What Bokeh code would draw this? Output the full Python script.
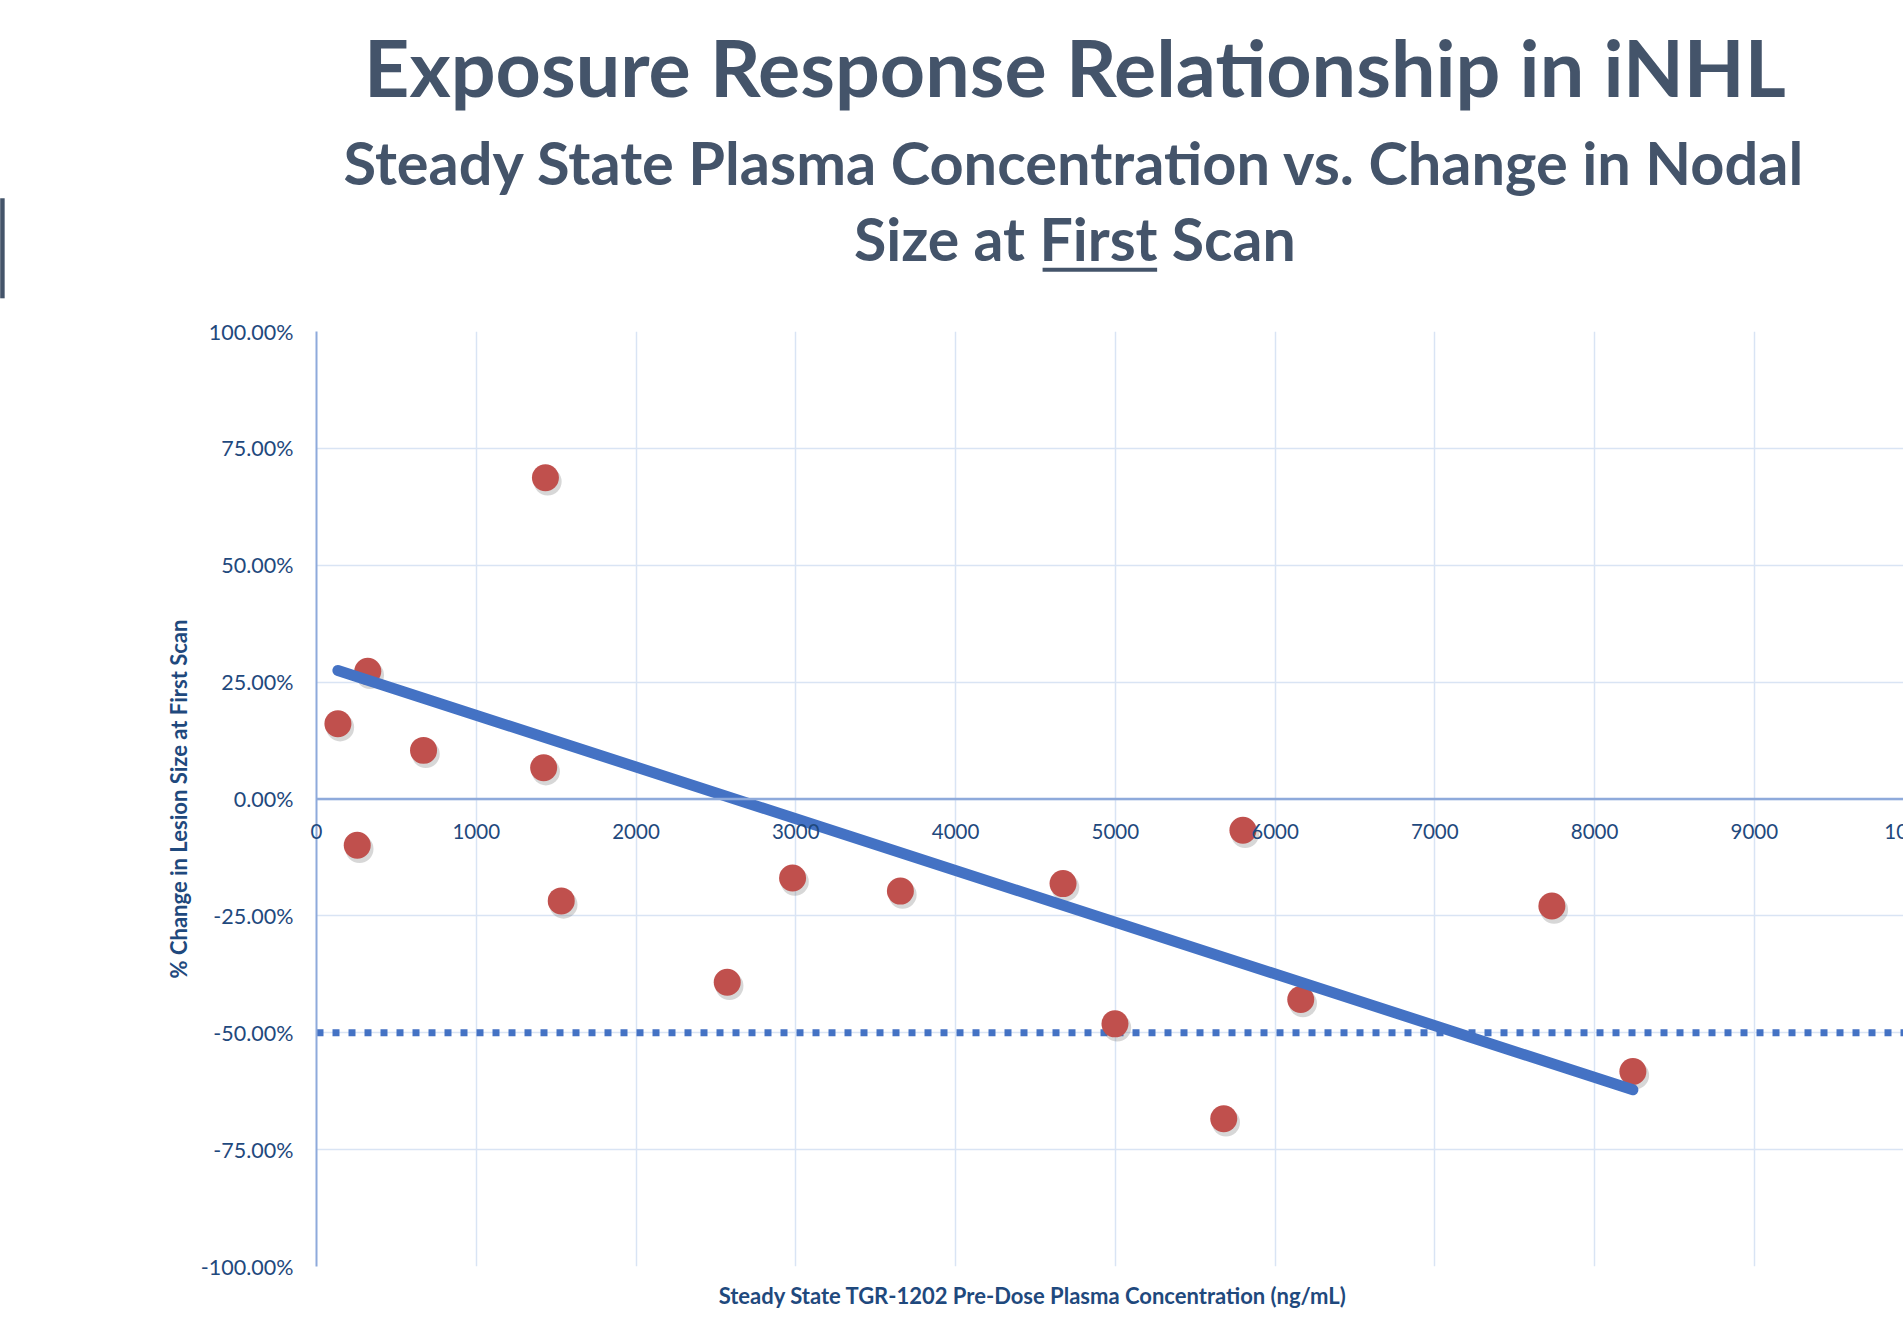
from bokeh.plotting import figure
from bokeh.models import (ColumnDataSource, Range1d, NumeralTickFormatter, FixedTicker, Span)
from bokeh.transform import dodge
from bokeh.core.properties import value
from bokeh.embed import file_html
from bokeh.resources import INLINE

# ---------------- data ----------------
title_text = "Exposure Response Relationship in iNHL"
subtitle_line1 = "Steady State Plasma Concentration vs. Change in Nodal"
subtitle_line2 = "Size at First Scan"
x_axis_title = "Steady State TGR-1202 Pre-Dose Plasma Concentration (ng/mL)"
y_axis_title = "% Change in Lesion Size at First Scan"

concentration = [134, 321, 255, 670, 1433, 1422, 1532, 2571, 2980, 3655,
                 4673, 4998, 5679, 5799, 6161, 7733, 8240]
pct_change = [0.161, 0.273, -0.099, 0.104, 0.687, 0.067, -0.218, -0.392, -0.169, -0.197,
              -0.181, -0.481, -0.684, -0.067, -0.429, -0.229, -0.583]

trend_x = [134, 8240]
trend_y = [0.275, -0.622]

threshold_x = [0, 10000]
threshold_y = [-0.50, -0.50]

x_ticks = [0, 1000, 2000, 3000, 4000, 5000, 6000, 7000, 8000, 9000, 10000]
x_tick_labels = [str(t) for t in x_ticks]
y_ticks = [-1.0, -0.75, -0.5, -0.25, 0.0, 0.25, 0.5, 0.75, 1.0]

# ---------------- style ----------------
TITLE_COLOR = "#44546A"
AXIS_TEXT = "#1F497D"
GRID = "#D9E4F4"
AXIS_LINE = "#8EAADB"
POINT = "#C0504D"
BLUE = "#4472C4"
FONT = "Lato"

W, H = 1903, 1318
p = figure(width=W, height=H, output_backend="svg", toolbar_location=None,
           x_range=Range1d(0, 9934), y_range=Range1d(-1.0, 1.0),
           min_border_left=316, min_border_right=0, min_border_top=331,
           min_border_bottom=52)
p.outline_line_color = None
p.background_fill_color = "white"
p.border_fill_color = "white"

# axes
p.xaxis.visible = False
yax = p.yaxis[0]
yax.ticker = FixedTicker(ticks=y_ticks)
yax.formatter = NumeralTickFormatter(format="0.00%")
yax.axis_line_color = AXIS_LINE
yax.axis_line_width = 2
yax.major_tick_line_color = None
yax.minor_tick_line_color = None
yax.major_label_standoff = 17
yax.major_label_text_font = FONT
yax.major_label_text_font_size = "21.5px"
yax.major_label_text_color = AXIS_TEXT
yax.axis_label = y_axis_title
yax.axis_label_text_font = FONT
yax.axis_label_text_font_size = "22px"
yax.axis_label_text_font_style = "bold"
yax.axis_label_text_color = AXIS_TEXT
yax.axis_label_standoff = 6

# grid
p.xgrid.ticker = FixedTicker(ticks=x_ticks)
p.ygrid.ticker = FixedTicker(ticks=y_ticks)
p.xgrid.grid_line_color = GRID
p.ygrid.grid_line_color = GRID
p.xgrid.grid_line_width = 1.5
p.ygrid.grid_line_width = 1.5

# horizontal axis line at 0
p.add_layout(Span(location=0, dimension="width", line_color=AXIS_LINE, line_width=2.5))

# threshold dotted line
p.line(threshold_x, threshold_y, line_color=BLUE, line_width=7, line_dash="7 9")

# points with shadow
src = ColumnDataSource(dict(x=concentration, y=pct_change))
p.scatter(x=dodge("x", 14, range=p.x_range), y=dodge("y", -0.008, range=p.y_range),
          source=src, size=28, fill_color="#606060", fill_alpha=0.25, line_color=None)
p.scatter(x="x", y="y", source=src, size=27, fill_color=POINT, line_color=None)

# trend line
p.line(trend_x, trend_y, line_color=BLUE, line_width=11, line_cap="round")

# x tick labels just below the 0 line (axis crosses at y = 0)
TICK_DROP = 0.0695
tick_src = ColumnDataSource(dict(x=x_ticks, y=[-TICK_DROP] * len(x_ticks), t=x_tick_labels))
r = p.text(x="x", y="y", text="t", source=tick_src, text_align="center",
           text_baseline="middle", text_font=value(FONT), text_font_size="20.5px",
           text_color=AXIS_TEXT)
r.level = "overlay"


def add_text(x, y, txt, size, color, baseline="alphabetic"):
    g = p.text(x=[x], y=[y], text=[txt], text_align="center", text_baseline=baseline,
               text_font=value(FONT), text_font_size=size, text_font_style="bold",
               text_color=color)
    g.level = "overlay"


# x axis title
add_text(4484, -1.062, x_axis_title, "22px", AXIS_TEXT, baseline="middle")

# titles
add_text(4747, 1.567, title_text, "79px", TITLE_COLOR)
add_text(4747, 1.363, subtitle_line1, "59.5px", TITLE_COLOR)
add_text(4747, 1.200, subtitle_line2, "59px", TITLE_COLOR)
underline_x = [4545, 5262]
underline_y = [1.132, 1.132]
ul = p.line(underline_x, underline_y, line_color=TITLE_COLOR, line_width=4)
ul.level = "overlay"

# slide-frame edge visible at the far left of the picture
edge_left = [-1980]
edge_right = [-1952]
edge_top = [1.285]
edge_bottom = [1.071]
eq = p.quad(left=edge_left, right=edge_right, top=edge_top, bottom=edge_bottom,
            fill_color=TITLE_COLOR, line_color=None)
eq.level = "overlay"

open("out.html", "w").write(file_html(p, INLINE))
